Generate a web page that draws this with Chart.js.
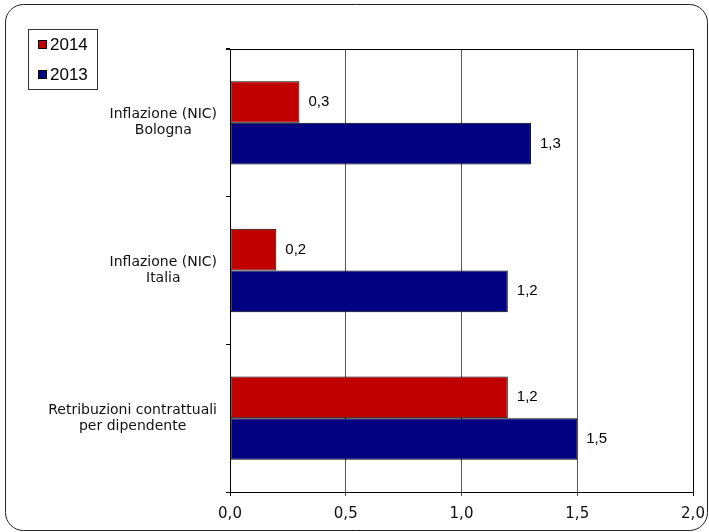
<!DOCTYPE html>
<html>
<head>
<meta charset="utf-8">
<script src="https://cdn.jsdelivr.net/npm/chart.js@4/dist/chart.umd.min.js"></script>
<style>
  html, body { margin: 0; padding: 0; background: #fff; }
  canvas { display: block; }
</style>
</head>
<body>
<canvas id="chart" width="709" height="532"></canvas>
<script>
// Categories (each label split into its printed lines)
const categories = [
  ["Inflazione (NIC)", "Bologna"],
  ["Inflazione (NIC)", "Italia"],
  ["Retribuzioni contrattuali", "per dipendente"]
];
// Percentage changes per year
const series2014 = [0.3, 0.2, 1.2];
const series2013 = [1.3, 1.2, 1.5];
const seriesNames = ["2014", "2013"];
const axisMin = 0, axisMax = 2, axisStep = 0.5;

const fmt = v => v.toFixed(1).replace('.', ',');

// Rounded frame around the whole figure
const framePlugin = {
  id: 'frame',
  beforeDraw(chart) {
    const c = chart.ctx;
    c.save();
    c.fillStyle = '#fff';
    c.fillRect(0, 0, chart.width, chart.height);
    c.strokeStyle = '#222';
    c.lineWidth = 1;
    c.beginPath();
    c.roundRect(5.5, 4.5, 702, 526, 18);
    c.stroke();
    c.restore();
  },
  afterDraw(chart) {
    // top edge of the plot box, continuing over the left tick marks
    const a = chart.chartArea, c = chart.ctx;
    c.save();
    c.strokeStyle = '#000';
    c.lineWidth = 1;
    c.beginPath();
    c.moveTo(a.left - 4, Math.round(a.top) + 0.5);
    c.lineTo(a.right, Math.round(a.top) + 0.5);
    c.stroke();
    c.restore();
  }
};

// Multi-line category labels: block right-aligned, lines centred within it
const categoryLabelPlugin = {
  id: 'categoryLabels',
  afterDraw(chart) {
    const y = chart.scales.y, c = chart.ctx;
    const right = chart.chartArea.left - 13;
    const lh = 16;
    c.save();
    c.font = '14px "DejaVu Sans"';
    c.fillStyle = '#111';
    c.textAlign = 'center';
    c.textBaseline = 'middle';
    chart.data.labels.forEach((lines, i) => {
      const py = y.getPixelForTick(i);
      const w = Math.max(...lines.map(l => c.measureText(l).width));
      const cx = right - w / 2;
      const y0 = py - (lines.length - 1) * lh / 2;
      lines.forEach((l, k) => c.fillText(l, cx, y0 + k * lh));
    });
    c.restore();
  }
};

// Value labels at the end of each bar
const valueLabelPlugin = {
  id: 'valueLabels',
  afterDatasetsDraw(chart) {
    const c = chart.ctx;
    c.save();
    c.font = '15px "Liberation Sans", Arial, sans-serif';
    c.fillStyle = '#000';
    c.textAlign = 'left';
    c.textBaseline = 'middle';
    chart.data.datasets.forEach((ds, di) => {
      chart.getDatasetMeta(di).data.forEach((bar, i) => {
        c.fillText(fmt(ds.data[i]), bar.x + 9, bar.y);
      });
    });
    c.restore();
  }
};

// Boxed legend in the upper-left corner
const boxLegendPlugin = {
  id: 'boxLegend',
  afterDraw(chart) {
    const c = chart.ctx;
    c.save();
    c.strokeStyle = '#333';
    c.lineWidth = 1;
    c.strokeRect(28.5, 29.5, 69, 60);
    c.font = '17px "Liberation Sans", Arial, sans-serif';
    c.textAlign = 'left';
    c.textBaseline = 'middle';
    chart.data.datasets.forEach((ds, i) => {
      const cy = 44.5 + i * 30;
      c.fillStyle = ds.backgroundColor;
      c.fillRect(38, cy - 4.5, 9, 9);
      c.strokeStyle = '#000';
      c.strokeRect(38.5, cy - 4, 8, 8);
      c.fillStyle = '#000';
      c.fillText(ds.label, 50, cy + 0.5);
    });
    c.restore();
  }
};

new Chart(document.getElementById('chart'), {
  type: 'bar',
  data: {
    labels: categories,
    datasets: [
      { label: seriesNames[0], data: series2014, backgroundColor: '#C00000',
        borderColor: '#000', borderWidth: 1, borderSkipped: false },
      { label: seriesNames[1], data: series2013, backgroundColor: '#000080',
        borderColor: '#000', borderWidth: 1, borderSkipped: false }
    ]
  },
  options: {
    indexAxis: 'y',
    responsive: false,
    animation: false,
    devicePixelRatio: 1,
    layout: { padding: { left: 0, top: 49, right: 16, bottom: 0 } },
    datasets: { bar: { categoryPercentage: 0.564, barPercentage: 1 } },
    plugins: {
      legend: { display: false },
      tooltip: { enabled: false }
    },
    scales: {
      x: {
        min: axisMin,
        max: axisMax,
        afterFit(s) { s.height = 40; s.paddingLeft = 0; s.paddingRight = 0; },
        border: { display: true, color: '#000', width: 1 },
        grid: {
          color: ctx => (ctx.tick && (ctx.tick.value === axisMin || ctx.tick.value === axisMax)) ? '#000' : '#555',
          lineWidth: 1,
          drawTicks: true,
          tickLength: 4
        },
        ticks: {
          stepSize: axisStep,
          color: '#111',
          font: { family: '"DejaVu Sans"', size: 15 },
          padding: 9,
          maxRotation: 0,
          callback: v => fmt(v)
        }
      },
      y: {
        afterFit(s) { s.width = 230; s.paddingTop = 0; s.paddingBottom = 0; },
        border: { display: true, color: '#000', width: 1 },
        grid: {
          offset: true,
          drawOnChartArea: false,
          drawTicks: true,
          tickLength: 4,
          color: '#000'
        },
        ticks: { display: false }
      }
    }
  },
  plugins: [framePlugin, categoryLabelPlugin, valueLabelPlugin, boxLegendPlugin]
});
</script>
</body>
</html>
